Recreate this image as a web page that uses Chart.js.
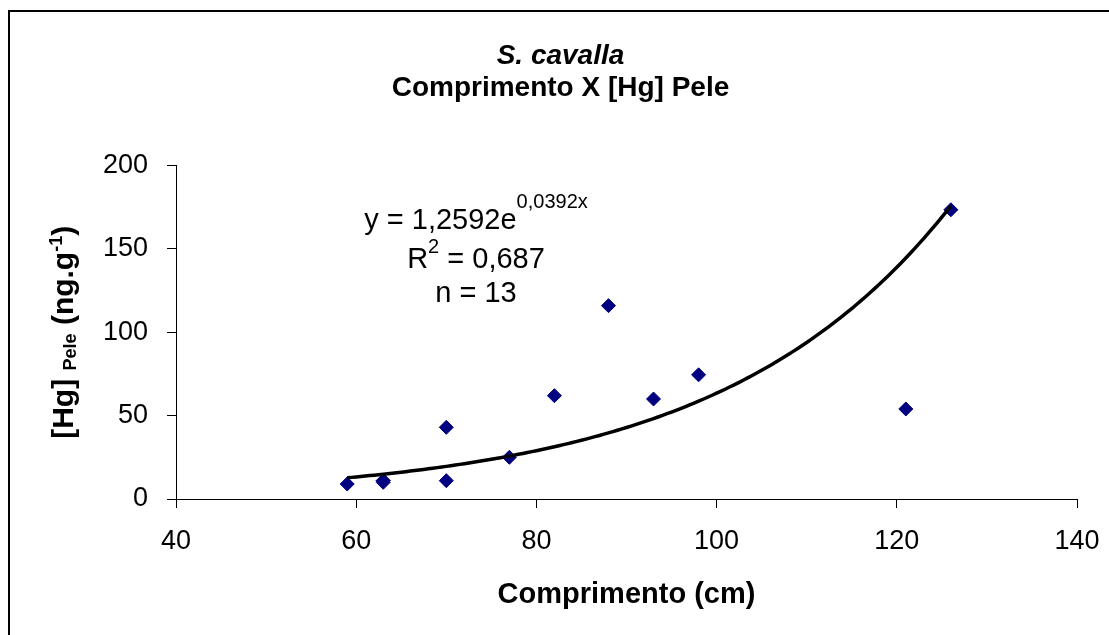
<!DOCTYPE html>
<html>
<head>
<meta charset="utf-8">
<title>S. cavalla – Comprimento X [Hg] Pele</title>
<script src="https://cdn.jsdelivr.net/npm/chart.js@4.4.1/dist/chart.umd.min.js"></script>
<style>
  html, body { margin: 0; padding: 0; background: #ffffff; }
  canvas { display: block; }
</style>
</head>
<body>
<canvas id="chart" width="1109" height="635"></canvas>
<script>
// Fish length (cm) and skin mercury concentration (ng/g), one entry per specimen
const comprimento = [59, 63, 63, 63, 70, 70, 77, 82, 88, 93, 98, 121, 126];
const hgPele      = [9, 10, 11, 11, 43, 11, 25, 62, 116, 60, 74.5, 54, 173.5];

// Axis ticks
const xTicks = [40, 60, 80, 100, 120, 140];
const yTicks = [0, 50, 100, 150, 200];

// Exponential trend line y = a·e^(b·x) and its statistics
const fitA = 1.2592;
const fitB = 0.0392;
const fitLabel = { a: '1,2592', b: '0,0392', r2: '0,687', n: String(comprimento.length) };

const FONT = '"Liberation Sans", Arial, Helvetica, sans-serif';

const points = comprimento.map((x, i) => ({ x, y: hgPele[i] }));

// trend curve over the measured length range
const xMin = Math.min(...comprimento);
const xMax = Math.max(...comprimento);
const trend = [];
for (let x = xMin; x <= xMax + 1e-9; x += 0.5) {
  trend.push({ x, y: fitA * Math.exp(fitB * x) });
}

// outer frame of the chart object
const framePlugin = {
  id: 'frame',
  beforeDraw(chart) {
    const ctx = chart.ctx;
    ctx.save();
    ctx.fillStyle = '#ffffff';
    ctx.fillRect(0, 0, chart.width, chart.height);
    ctx.strokeStyle = '#000000';
    ctx.lineWidth = 2;
    ctx.strokeRect(9, 11, chart.width + 40, chart.height + 40);
    ctx.restore();
  }
};

// draws a run of text pieces with individual size / weight / baseline shift
function drawRuns(ctx, runs, startX, baseY) {
  let x = startX;
  runs.forEach(r => {
    ctx.font = `${r.bold ? 'bold ' : ''}${r.size}px ${FONT}`;
    ctx.fillText(r.t, x, baseY + (r.dy || 0));
    x += ctx.measureText(r.t).width;
  });
  return x;
}
function runsWidth(ctx, runs) {
  let w = 0;
  runs.forEach(r => {
    ctx.font = `${r.bold ? 'bold ' : ''}${r.size}px ${FONT}`;
    w += ctx.measureText(r.t).width;
  });
  return w;
}

// y-axis title with subscript and superscript
const yTitlePlugin = {
  id: 'yTitle',
  afterDraw(chart) {
    const ctx = chart.ctx;
    const runs = [
      { t: '[Hg]', size: 30, bold: true },
      { t: ' ', size: 30, bold: true },
      { t: 'Pele', size: 18, bold: true, dy: 3 },
      { t: ' (ng.g', size: 30, bold: true },
      { t: '-1', size: 18, bold: true, dy: -11 },
      { t: ')', size: 30, bold: true }
    ];
    ctx.save();
    ctx.fillStyle = '#000000';
    ctx.textBaseline = 'alphabetic';
    ctx.textAlign = 'left';
    const cy = (chart.chartArea.top + chart.chartArea.bottom) / 2;
    ctx.translate(73, cy);
    ctx.rotate(-Math.PI / 2);
    const w = runsWidth(ctx, runs);
    drawRuns(ctx, runs, -w / 2, 0);
    ctx.restore();
  }
};

// trend equation, R² and sample size
const fitTextPlugin = {
  id: 'fitText',
  afterDraw(chart) {
    const ctx = chart.ctx;
    const cx = 476;
    const lines = [
      { base: 229, runs: [
        { t: 'y = ' + fitLabel.a + 'e', size: 29 },
        { t: fitLabel.b + 'x', size: 20, dy: -21 }
      ]},
      { base: 268, runs: [
        { t: 'R', size: 29 },
        { t: '2', size: 20, dy: -15 },
        { t: ' = ' + fitLabel.r2, size: 29 }
      ]},
      { base: 302, runs: [
        { t: 'n = ' + fitLabel.n, size: 29 }
      ]}
    ];
    ctx.save();
    ctx.fillStyle = '#000000';
    ctx.textBaseline = 'alphabetic';
    ctx.textAlign = 'left';
    lines.forEach(l => {
      const w = runsWidth(ctx, l.runs);
      drawRuns(ctx, l.runs, cx - w / 2, l.base);
    });
    ctx.restore();
  }
};

new Chart(document.getElementById('chart'), {
  type: 'scatter',
  data: {
    datasets: [
      {
        type: 'line',
        label: 'Exponencial',
        data: trend,
        borderColor: '#000000',
        borderWidth: 3.5,
        pointRadius: 0,
        fill: false,
        tension: 0
      },
      {
        label: '[Hg] Pele',
        data: points,
        pointStyle: 'rectRot',
        pointRadius: 7,
        pointHoverRadius: 7,
        backgroundColor: '#000080',
        borderColor: '#000080',
        borderWidth: 1
      }
    ]
  },
  options: {
    responsive: false,
    animation: false,
    devicePixelRatio: 1,
    layout: { padding: { left: 12, right: 0, top: 0, bottom: 0 } },
    plugins: {
      legend: { display: false },
      tooltip: { enabled: false },
      title: {
        display: true,
        text: 'S. cavalla',
        color: '#000000',
        font: { family: FONT, size: 28, weight: 'bold', style: 'italic', lineHeight: 1.1 },
        padding: { top: 41, bottom: 1 }
      },
      subtitle: {
        display: true,
        text: 'Comprimento X [Hg] Pele',
        color: '#000000',
        font: { family: FONT, size: 28, weight: 'bold', lineHeight: 1.1 },
        padding: { top: 0, bottom: 62 }
      }
    },
    scales: {
      x: {
        type: 'linear',
        min: 40,
        max: 140,
        afterBuildTicks: s => { s.ticks = xTicks.map(v => ({ value: v })); },
        afterFit: s => { s.height = 136; s.paddingLeft = 0; s.paddingRight = 0; },
        grid: { display: true, drawOnChartArea: false, drawTicks: true, tickLength: 9, color: '#000000' },
        border: { display: true, color: '#000000', width: 1 },
        ticks: { color: '#000000', font: { family: FONT, size: 27 }, padding: 17, maxRotation: 0 },
        title: {
          display: true,
          text: 'Comprimento (cm)',
          color: '#000000',
          font: { family: FONT, size: 29, weight: 'bold' },
          padding: { top: 0, bottom: 23 }
        }
      },
      y: {
        type: 'linear',
        min: 0,
        max: 200,
        afterBuildTicks: s => { s.ticks = yTicks.map(v => ({ value: v })); },
        afterFit: s => { s.width = 164; },
        grid: { display: true, drawOnChartArea: false, drawTicks: true, tickLength: 9, color: '#000000' },
        border: { display: true, color: '#000000', width: 1 },
        ticks: { color: '#000000', font: { family: FONT, size: 27 }, padding: 19 },
        title: { display: false }
      },
      yRight: {
        type: 'linear',
        position: 'right',
        display: true,
        afterFit: s => { s.width = 32; },
        grid: { display: false },
        border: { display: false },
        ticks: { display: false },
        title: { display: false }
      }
    }
  },
  plugins: [framePlugin, yTitlePlugin, fitTextPlugin]
});
</script>
</body>
</html>
